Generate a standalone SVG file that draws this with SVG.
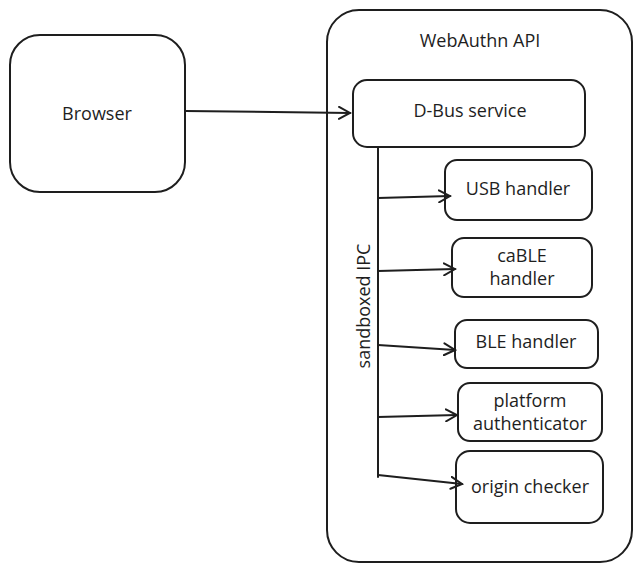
<svg xmlns="http://www.w3.org/2000/svg" width="642" height="573" viewBox="0 0 642 573">
<style>
.n{fill:#fff;stroke:#1e1e1e;stroke-width:2}
.t{font-family:"Open Sans","Liberation Sans",sans-serif;font-size:18px;fill:#1e1e1e;text-anchor:middle;dominant-baseline:middle}
.c{stroke:#1e1e1e;stroke-width:2;fill:none;stroke-linecap:round}
</style>
<defs><marker id="a" markerWidth="14" markerHeight="14" refX="12" refY="7" orient="auto" markerUnits="userSpaceOnUse"><path d="M1,1 L12,7 L1,13" fill="none" stroke="#1e1e1e" stroke-width="2" stroke-linecap="round"/></marker></defs>
<rect width="642" height="573" fill="#fff"/>
<g id="webauthn"><rect class="n" x="327" y="10" width="305" height="552" rx="32"/><text class="t" x="480" y="42">WebAuthn API</text></g>
<g id="browser"><rect class="n" x="10" y="35" width="175" height="157" rx="30"/><text class="t" x="97" y="115">Browser</text></g>
<g id="dbus"><rect class="n" x="353" y="80" width="232" height="67" rx="14"/><text class="t" x="470" y="112">D-Bus service</text></g>
<g id="usb"><rect class="n" x="445" y="160" width="147" height="60" rx="12"/><text class="t" x="518" y="190">USB handler</text></g>
<g id="cable"><rect class="n" x="452" y="238" width="140" height="59" rx="12"/><text class="t" x="522" y="257">caBLE</text><text class="t" x="522" y="280">handler</text></g>
<g id="ble"><rect class="n" x="455" y="320" width="143" height="48" rx="12"/><text class="t" x="526" y="343">BLE handler</text></g>
<g id="platform"><rect class="n" x="458" y="383" width="144" height="58" rx="12"/><text class="t" x="530" y="402">platform</text><text class="t" x="530" y="425">authenticator</text></g>
<g id="origin"><rect class="n" x="456" y="451" width="147" height="72" rx="14"/><text class="t" x="530" y="488">origin checker</text></g>
<g id="connectors">
<path class="c" d="M185,111 L350,113" marker-end="url(#a)"/>
<path class="c" d="M378,148 L378,477"/>
<path class="c" d="M378,198 L450,196" marker-end="url(#a)"/>
<path class="c" d="M378,271 L455,269" marker-end="url(#a)"/>
<path class="c" d="M378,345 L455,350" marker-end="url(#a)"/>
<path class="c" d="M378,417 L457,415" marker-end="url(#a)"/>
<path class="c" d="M378,475 L462,484" marker-end="url(#a)"/>
<text class="t" transform="translate(365,306) rotate(-90)">sandboxed IPC</text>
</g>
</svg>
